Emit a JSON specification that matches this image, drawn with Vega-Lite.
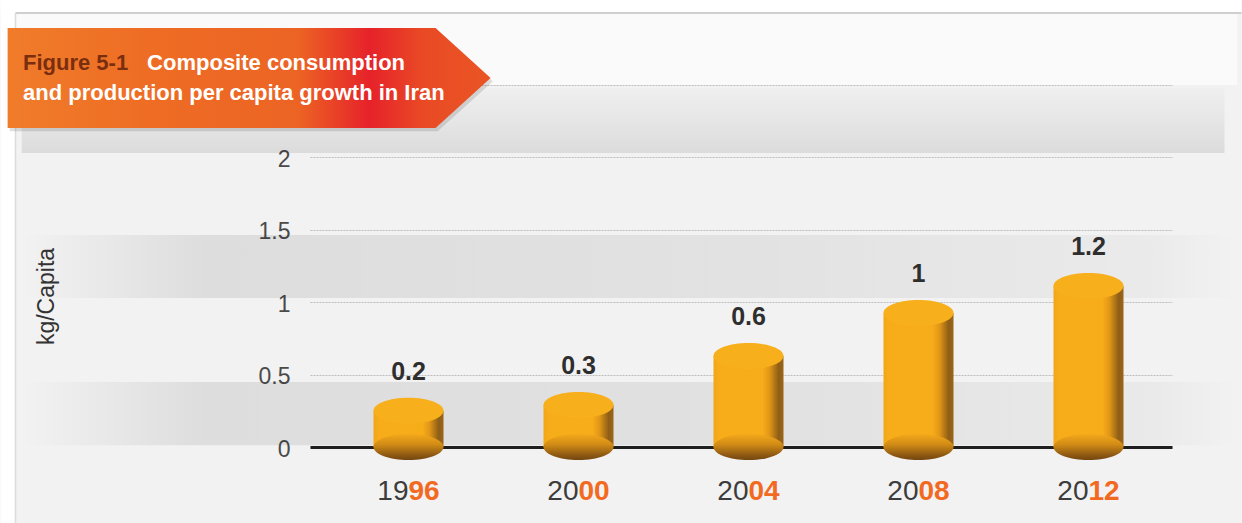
{
  "$schema": "https://vega.github.io/schema/vega-lite/v6.json",
  "width": 862,
  "height": 362,
  "autosize": "none",
  "padding": {"left": 310, "top": 85, "right": 70, "bottom": 76},
  "background": "#f2f2f2",
  "config": {"view": {"stroke": null}, "font": "Liberation Sans"},
  "data": {"values": [
    {"year": 1996, "lead": "19", "tail": "96", "value": 0.2, "bar": 0.25},
    {"year": 2000, "lead": "20", "tail": "00", "value": 0.3, "bar": 0.29},
    {"year": 2004, "lead": "20", "tail": "04", "value": 0.6, "bar": 0.628},
    {"year": 2008, "lead": "20", "tail": "08", "value": 1, "bar": 0.925},
    {"year": 2012, "lead": "20", "tail": "12", "value": 1.2, "bar": 1.112}
  ]},
  "layer": [
    {
      "data": {"values": [{}]},
      "mark": {"type": "rect", "fill": {"gradient": "linear", "x1": 0, "x2": 1, "y1": 0, "y2": 0, "stops": [
        {"offset": 0, "color": "rgba(0,0,0,0)"}, {"offset": 0.15, "color": "rgba(0,0,0,0.085)"}, {"offset": 0.6, "color": "rgba(0,0,0,0.07)"}, {"offset": 0.93, "color": "rgba(0,0,0,0.035)"}, {"offset": 1, "color": "rgba(0,0,0,0)"}]}},
      "encoding": {
        "x": {"datum": 1986.9, "type": "quantitative", "scale": {"domain": [1993.8, 2013.847], "nice": false, "zero": false},
          "axis": {"title": null, "labels": false, "ticks": false, "grid": false, "domain": true, "domainColor": "#1e1e1e", "domainWidth": 3}},
        "x2": {"datum": 2015.5},
        "y": {"datum": 0.012, "type": "quantitative", "scale": {"domain": [0, 2.5], "nice": false},
          "axis": {"title": "kg/Capita", "values": [0, 0.5, 1, 1.5, 2, 2.5], "format": "~g", "labelExpr": "datum.value == 2.5 ? '' : datum.label",
            "grid": true, "gridColor": "#bdbdbd", "gridDash": [2, 1], "gridWidth": 1,
            "domain": false, "ticks": false, "labelPadding": 20, "labelFontSize": 23, "labelColor": "#4a4a4a", "labelFont": "Liberation Sans", "labelOffset": 2,
            "titleFont": "Liberation Sans", "titleFontSize": 23, "titleFontWeight": "normal", "titleColor": "#333333",
            "titleX": -252, "titleY": 211, "titleAlign": "center", "titleBaseline": "bottom"}},
        "y2": {"datum": 0.449}
      }
    },
    {
      "data": {"values": [{}]},
      "mark": {"type": "rect", "fill": {"gradient": "linear", "x1": 0, "x2": 1, "y1": 0, "y2": 0, "stops": [
        {"offset": 0, "color": "rgba(0,0,0,0)"}, {"offset": 0.15, "color": "rgba(0,0,0,0.085)"}, {"offset": 0.6, "color": "rgba(0,0,0,0.065)"}, {"offset": 0.93, "color": "rgba(0,0,0,0.03)"}, {"offset": 1, "color": "rgba(0,0,0,0)"}]}},
      "encoding": {
        "x": {"datum": 1986.9, "type": "quantitative", "scale": {"domain": [1993.8, 2013.847], "nice": false, "zero": false}},
        "x2": {"datum": 2015.5},
        "y": {"datum": 1.029, "type": "quantitative", "scale": {"domain": [0, 2.5], "nice": false}},
        "y2": {"datum": 1.464}
      }
    },
    {
      "data": {"values": [{}]},
      "mark": {"type": "rect", "fill": "#fafafa"},
      "encoding": {
        "x": {"datum": 1986.753, "type": "quantitative", "scale": {"domain": [1993.8, 2013.847], "nice": false, "zero": false}},
        "x2": {"datum": 2015.5},
        "y": {"datum": 2.5, "type": "quantitative", "scale": {"domain": [0, 2.5], "nice": false}},
        "y2": {"datum": 2.997}
      }
    },
    {
      "data": {"values": [{}]},
      "mark": {"type": "rect", "fill": {"gradient": "linear", "x1": 0, "x2": 0, "y1": 0, "y2": 1, "stops": [
        {"offset": 0, "color": "rgba(0,0,0,0.01)"}, {"offset": 0.5, "color": "rgba(0,0,0,0.05)"}, {"offset": 1, "color": "rgba(0,0,0,0.095)"}]}},
      "encoding": {
        "x": {"datum": 1986.9, "type": "quantitative", "scale": {"domain": [1993.8, 2013.847], "nice": false, "zero": false}},
        "x2": {"datum": 2015.2},
        "y": {"datum": 2.03, "type": "quantitative", "scale": {"domain": [0, 2.5], "nice": false}},
        "y2": {"datum": 2.48}
      }
    },
    {
      "data": {"values": [{}]},
      "mark": {"type": "rect", "fill": "#ffffff"},
      "encoding": {
        "x": {"datum": 1986.4, "type": "quantitative", "scale": {"domain": [1993.8, 2013.847], "nice": false, "zero": false}},
        "x2": {"datum": 2015.6},
        "y": {"datum": 2.997, "type": "quantitative", "scale": {"domain": [0, 2.5], "nice": false}},
        "y2": {"datum": 3.2}
      }
    },
    {
      "data": {"values": [{}]},
      "mark": {"type": "rect", "fill": "#ffffff"},
      "encoding": {
        "x": {"datum": 1986.4, "type": "quantitative", "scale": {"domain": [1993.8, 2013.847], "nice": false, "zero": false}},
        "x2": {"datum": 1986.753},
        "y": {"datum": -0.6, "type": "quantitative", "scale": {"domain": [0, 2.5], "nice": false}},
        "y2": {"datum": 3.2}
      }
    },
    {
      "data": {"values": [{}]},
      "mark": {"type": "rule", "color": "#cfcfcf", "strokeWidth": 2},
      "encoding": {
        "x": {"datum": 1986.753, "type": "quantitative", "scale": {"domain": [1993.8, 2013.847], "nice": false, "zero": false}},
        "x2": {"datum": 2015.6},
        "y": {"datum": 2.997, "type": "quantitative", "scale": {"domain": [0, 2.5], "nice": false}}
      }
    },
    {
      "data": {"values": [{}]},
      "mark": {"type": "rule", "color": "#dcdcdc", "strokeWidth": 1.5},
      "encoding": {
        "x": {"datum": 1986.753, "type": "quantitative", "scale": {"domain": [1993.8, 2013.847], "nice": false, "zero": false}},
        "y": {"datum": -0.6, "type": "quantitative", "scale": {"domain": [0, 2.5], "nice": false}},
        "y2": {"datum": 2.997}
      }
    },
    {
      "mark": {"type": "bar", "orient": "vertical", "size": 70, "fill": {"gradient": "linear", "x1": 0, "x2": 1, "y1": 0, "y2": 0, "stops": [
        {"offset": 0, "color": "#f2a618"}, {"offset": 0.08, "color": "#f7ac1a"}, {"offset": 0.7, "color": "#f7ac1a"}, {"offset": 0.8, "color": "#e19617"}, {"offset": 0.93, "color": "#8f5e16"}, {"offset": 1, "color": "#9a6518"}]}},
      "encoding": {
        "x": {"field": "year", "type": "quantitative", "scale": {"domain": [1993.8, 2013.847], "nice": false, "zero": false}},
        "y": {"field": "bar", "type": "quantitative", "scale": {"domain": [0, 2.5], "nice": false}}
      }
    },
    {
      "mark": {"type": "point", "shape": "M-1,0 A1,0.371 0 1,1 1,0 A1,0.371 0 1,1 -1,0 Z", "size": 4900, "filled": true, "opacity": 1, "strokeWidth": 0,
        "fill": {"gradient": "linear", "x1": 0, "x2": 0, "y1": 0, "y2": 1, "stops": [
          {"offset": 0, "color": "#f4a81a"}, {"offset": 0.4, "color": "#d28c16"}, {"offset": 0.8, "color": "#8f5a13"}, {"offset": 1, "color": "#74460f"}]}},
      "encoding": {
        "x": {"field": "year", "type": "quantitative", "scale": {"domain": [1993.8, 2013.847], "nice": false, "zero": false}},
        "y": {"datum": 0, "type": "quantitative", "scale": {"domain": [0, 2.5], "nice": false}}
      }
    },
    {
      "mark": {"type": "point", "shape": "M-1,0 A1,0.371 0 1,1 1,0 A1,0.371 0 1,1 -1,0 Z", "size": 4900, "filled": true, "opacity": 1, "strokeWidth": 0, "fill": "#f8af1c"},
      "encoding": {
        "x": {"field": "year", "type": "quantitative", "scale": {"domain": [1993.8, 2013.847], "nice": false, "zero": false}},
        "y": {"field": "bar", "type": "quantitative", "scale": {"domain": [0, 2.5], "nice": false}}
      }
    },
    {
      "mark": {"type": "text", "dy": -31, "fontSize": 25, "fontWeight": "bold", "color": "#2e2e2e", "align": "center", "baseline": "alphabetic"},
      "encoding": {
        "x": {"field": "year", "type": "quantitative", "scale": {"domain": [1993.8, 2013.847], "nice": false, "zero": false}},
        "y": {"field": "bar", "type": "quantitative", "scale": {"domain": [0, 2.5], "nice": false}},
        "text": {"field": "value", "type": "quantitative"}
      }
    },
    {
      "mark": {"type": "text", "dy": 53, "fontSize": 28, "color": "#3c3c3c", "align": "right", "baseline": "alphabetic"},
      "encoding": {
        "x": {"field": "year", "type": "quantitative", "scale": {"domain": [1993.8, 2013.847], "nice": false, "zero": false}},
        "y": {"datum": 0, "type": "quantitative", "scale": {"domain": [0, 2.5], "nice": false}},
        "text": {"field": "lead"}
      }
    },
    {
      "mark": {"type": "text", "dy": 53, "fontSize": 28, "fontWeight": "bold", "color": "#f26a21", "align": "left", "baseline": "alphabetic"},
      "encoding": {
        "x": {"field": "year", "type": "quantitative", "scale": {"domain": [1993.8, 2013.847], "nice": false, "zero": false}},
        "y": {"datum": 0, "type": "quantitative", "scale": {"domain": [0, 2.5], "nice": false}},
        "text": {"field": "tail"}
      }
    },
    {
      "data": {"values": [{}]},
      "mark": {"type": "point", "shape": "M-1,-0.207 L0.772,-0.207 L1,0 L0.772,0.207 L-1,0.207 Z", "size": 233289, "filled": true, "opacity": 0.12, "strokeWidth": 0, "fill": "#000000"},
      "encoding": {
        "x": {"datum": 1992.3, "type": "quantitative", "scale": {"domain": [1993.8, 2013.847], "nice": false, "zero": false}},
        "y": {"datum": 2.525, "type": "quantitative", "scale": {"domain": [0, 2.5], "nice": false}}
      }
    },
    {
      "data": {"values": [{}]},
      "mark": {"type": "point", "shape": "M-1,-0.207 L0.772,-0.207 L1,0 L0.772,0.207 L-1,0.207 Z", "size": 233289, "filled": true, "opacity": 1, "strokeWidth": 0,
        "fill": {"gradient": "linear", "x1": 0, "x2": 1, "y1": 0, "y2": 0, "stops": [
          {"offset": 0, "color": "#f07c2a"}, {"offset": 0.3, "color": "#ee6c24"}, {"offset": 0.6, "color": "#ec6424"}, {"offset": 0.75, "color": "#e6222a"}, {"offset": 0.86, "color": "#e94a25"}, {"offset": 1, "color": "#ea5524"}]}},
      "encoding": {
        "x": {"datum": 1992.25, "type": "quantitative", "scale": {"domain": [1993.8, 2013.847], "nice": false, "zero": false}},
        "y": {"datum": 2.548, "type": "quantitative", "scale": {"domain": [0, 2.5], "nice": false}}
      }
    },
    {
      "data": {"values": [{}]},
      "mark": {"type": "text", "text": "Figure 5-1", "fontSize": 22, "fontWeight": "bold", "color": "#7a2e10", "align": "left", "baseline": "alphabetic"},
      "encoding": {
        "x": {"datum": 1986.93, "type": "quantitative", "scale": {"domain": [1993.8, 2013.847], "nice": false, "zero": false}},
        "y": {"datum": 2.6036, "type": "quantitative", "scale": {"domain": [0, 2.5], "nice": false}}
      }
    },
    {
      "data": {"values": [{}]},
      "mark": {"type": "text", "text": "Composite consumption", "fontSize": 22, "fontWeight": "bold", "color": "#ffffff", "align": "left", "baseline": "alphabetic"},
      "encoding": {
        "x": {"datum": 1989.85, "type": "quantitative", "scale": {"domain": [1993.8, 2013.847], "nice": false, "zero": false}},
        "y": {"datum": 2.6036, "type": "quantitative", "scale": {"domain": [0, 2.5], "nice": false}}
      }
    },
    {
      "data": {"values": [{}]},
      "mark": {"type": "text", "text": "and production per capita growth in Iran", "fontSize": 22, "fontWeight": "bold", "color": "#ffffff", "align": "left", "baseline": "alphabetic"},
      "encoding": {
        "x": {"datum": 1986.93, "type": "quantitative", "scale": {"domain": [1993.8, 2013.847], "nice": false, "zero": false}},
        "y": {"datum": 2.3964, "type": "quantitative", "scale": {"domain": [0, 2.5], "nice": false}}
      }
    }
  ]
}
